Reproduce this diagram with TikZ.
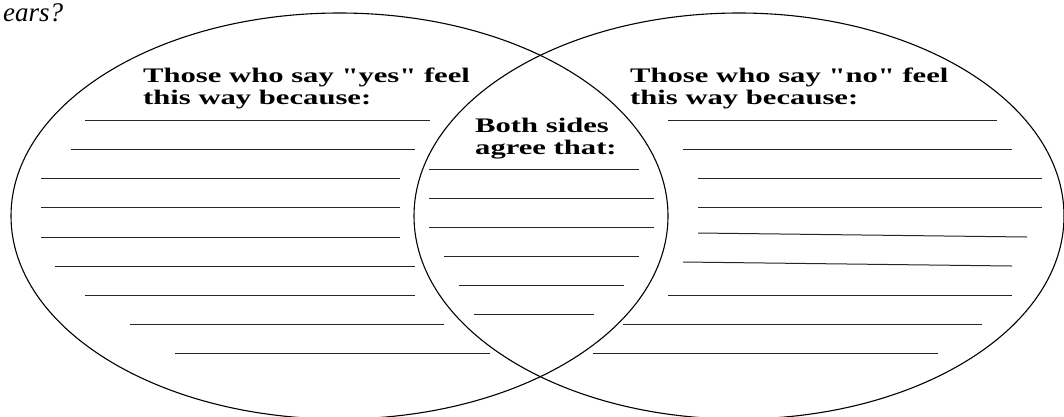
\documentclass[tikz,border=0pt]{standalone}
\usepackage{fontspec}
\setmainfont{Liberation Serif}
\newfontfamily\headfont[FakeStretch=1.48]{Liberation Serif}
\usetikzlibrary{positioning}

\tikzset{
  ring/.style={draw=black,line width=1.1pt},
  blank/.style={draw=black!85,line width=1pt},
  heading/.style={font=\headfont\bfseries\fontsize{20.7}{22}\selectfont,
    align=left,anchor=north west,inner sep=0pt}
}

\begin{document}
\begin{tikzpicture}[x=1pt,y=-1pt]
  \useasboundingbox (0,0) rectangle (1064,416);
  \clip (0,0) rectangle (1064,416);
  % question left over at the top
  \node[font=\itshape\fontsize{27}{29}\selectfont,anchor=base west,inner sep=0pt]
    (question) at (3,21) {ears?};
  % the two circles
  \draw[ring] (339.5,216) ellipse [x radius=328.5, y radius=203];
  \draw[ring] (739,216) ellipse [x radius=325, y radius=203];
  % headings
  \node[heading] (yesside) at (143,68) {Those who say "yes" feel\\this way because:};
  \node[heading] (bothside) at (475,118) {Both sides\\agree that:};
  \node[heading] (noside) at (630,68) {Those who say "no" feel\\this way because:};
  % writing lines, left part
  \foreach \y/\a/\b in {120/85/430, 149/71/415, 178/41/400, 207/41/400,
      237/41/400, 266/55/415, 295/85/415, 324/130/444, 353/175/490}{
    \draw[blank] (\a,\y) -- (\b,\y);
  }
  % writing lines, middle part
  \foreach \y/\a/\b in {169/429/639, 198/429/654, 227/429/654,
      256/444/639, 285/459/624, 314/474/594}{
    \draw[blank] (\a,\y) -- (\b,\y);
  }
  % writing lines, right part (some of them slope a little)
  \foreach \y/\z/\a/\b in {120/120/668/997, 149/149/683/1012, 178/178/698/1042,
      207/207/698/1042, 233/237/698/1027, 262/266/683/1012,
      295/295/668/1012, 324/324/623/982, 353/353/593/938}{
    \draw[blank] (\a,\y) -- (\b,\z);
  }
\end{tikzpicture}
\end{document}
